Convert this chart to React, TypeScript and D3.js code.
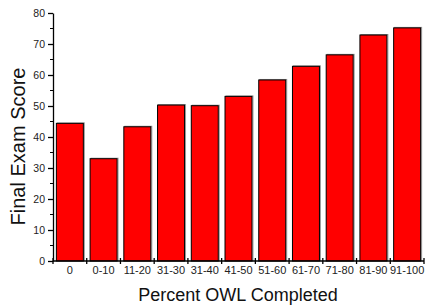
import { useEffect, useRef } from 'react';
import * as d3 from 'd3';

const categories = ['0', '0-10', '11-20', '31-30', '31-40', '41-50', '51-60', '61-70', '71-80', '81-90', '91-100'];
const scores = [44.4, 33, 43.3, 50.3, 50.1, 53.1, 58.4, 62.8, 66.5, 72.9, 75.2];
const yTicks = [0, 10, 20, 30, 40, 50, 60, 70, 80];

const width = 428;
const height = 306;
const margin = { top: 13, right: 4, bottom: 45, left: 53 };

const App = () => {
  const ref = useRef<SVGSVGElement>(null);

  useEffect(() => {
    const svg = d3.select(ref.current);
    svg.selectAll('*').remove();

    const x = d3.scaleBand()
      .domain(categories)
      .range([margin.left, width - margin.right])
      .paddingInner(0.2)
      .paddingOuter(0.1);

    const y = d3.scaleLinear()
      .domain([0, 80])
      .range([height - margin.bottom, margin.top]);

    const font = 'Arial, "Liberation Sans", sans-serif';

    // bars, with a faint grey shadow like the original
    const bars = svg.append('g');
    bars.selectAll('rect.shadow')
      .data(scores)
      .enter()
      .append('rect')
      .attr('class', 'shadow')
      .attr('x', (d, i) => x(categories[i])! + 1)
      .attr('y', d => y(d) - 0.5)
      .attr('width', x.bandwidth())
      .attr('height', d => y(0) - y(d))
      .attr('fill', 'none')
      .attr('stroke', '#999')
      .attr('stroke-width', 1);

    bars.selectAll('rect.bar')
      .data(scores)
      .enter()
      .append('rect')
      .attr('class', 'bar')
      .attr('x', (d, i) => x(categories[i])!)
      .attr('y', d => y(d))
      .attr('width', x.bandwidth())
      .attr('height', d => y(0) - y(d))
      .attr('fill', '#ff0000')
      .attr('stroke', '#000')
      .attr('stroke-width', 1);

    // y axis
    const yAxis = svg.append('g')
      .attr('transform', `translate(${margin.left},0)`)
      .call(d3.axisLeft(y).tickValues(yTicks).tickSize(5).tickPadding(3).tickSizeOuter(0));
    yAxis.select('.domain').attr('stroke-width', 1.3);
    yAxis.selectAll('.tick line').attr('stroke-width', 1.3);
    yAxis.selectAll('text').attr('font-family', font).attr('font-size', 10.5).attr('fill', '#222');

    // minor y ticks
    svg.append('g')
      .selectAll('line')
      .data(d3.range(5, 80, 10))
      .enter()
      .append('line')
      .attr('x1', margin.left - 3)
      .attr('x2', margin.left)
      .attr('y1', d => y(d))
      .attr('y2', d => y(d))
      .attr('stroke', '#000')
      .attr('stroke-width', 1);

    // x axis: ticks sit between categories
    const x0 = margin.left;
    const x1 = width - margin.right;
    const xAxis = svg.append('g');
    xAxis.append('line')
      .attr('x1', x0).attr('x2', x1)
      .attr('y1', y(0)).attr('y2', y(0))
      .attr('stroke', '#000').attr('stroke-width', 1.3);
    const step = x.step();
    const edges = d3.range(categories.length + 1).map(i => x(categories[0])! - step * x.paddingInner() / 2 + i * step);
    xAxis.selectAll('line.tick')
      .data(edges)
      .enter()
      .append('line')
      .attr('class', 'tick')
      .attr('x1', d => d).attr('x2', d => d)
      .attr('y1', y(0) - 3).attr('y2', y(0) + 3)
      .attr('stroke', '#000').attr('stroke-width', 1.3);
    xAxis.selectAll('text')
      .data(categories)
      .enter()
      .append('text')
      .attr('x', d => x(d)! + x.bandwidth() / 2)
      .attr('y', y(0) + 13)
      .attr('text-anchor', 'middle')
      .attr('font-family', font)
      .attr('font-size', 11)
      .attr('fill', '#222')
      .text(d => d);

    // axis titles
    svg.append('text')
      .attr('x', 238)
      .attr('y', 300.5)
      .attr('text-anchor', 'middle')
      .attr('font-family', font)
      .attr('font-size', 18)
      .attr('fill', '#111')
      .text('Percent OWL Completed');

    svg.append('text')
      .attr('transform', `translate(24.5,146.5) rotate(-90)`)
      .attr('text-anchor', 'middle')
      .attr('font-family', font)
      .attr('font-size', 20)
      .attr('fill', '#111')
      .text('Final Exam Score');
  }, []);

  return (
    <svg ref={ref} width={width} height={height} style={{ position: 'absolute', left: 0, top: 0 }}></svg>
  );
};

export default App;
